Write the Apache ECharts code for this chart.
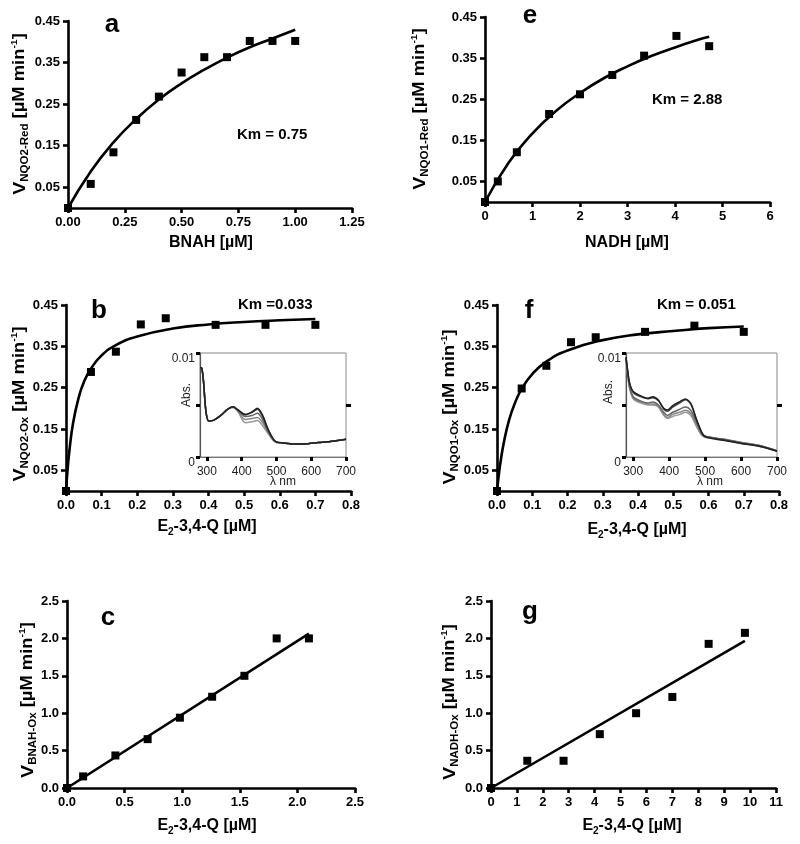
<!DOCTYPE html>
<html><head><meta charset="utf-8">
<script src="https://cdn.jsdelivr.net/npm/echarts@6/dist/echarts.min.js"></script>
<style>html,body{margin:0;padding:0;background:#fff}#c{width:800px;height:844px}</style>
</head><body><div id="c"></div>
<script>
// ---------- data ----------
// panel a : NQO2 reduction by BNAH
const aX = [0, 0.1, 0.2, 0.3, 0.4, 0.5, 0.6, 0.7, 0.8, 0.9, 1.0];
const aY = [0, 0.058, 0.134, 0.212, 0.268, 0.326, 0.363, 0.363, 0.402, 0.402, 0.402];
const aFitX = [0, 0.1, 0.2, 0.3, 0.4, 0.5, 0.6, 0.7, 0.8, 0.9, 1.0];
const aFitY = [0, 0.088, 0.158, 0.214, 0.261, 0.300, 0.333, 0.362, 0.387, 0.408, 0.429];
// panel e : NQO1 reduction by NADH
const eX = [0, 0.27, 0.67, 1.35, 2.0, 2.68, 3.35, 4.03, 4.72];
const eY = [0, 0.050, 0.121, 0.214, 0.262, 0.309, 0.356, 0.404, 0.379];
const eFitX = [0, 0.5, 1, 1.5, 2, 2.5, 3, 3.5, 4, 4.5, 4.72];
const eFitY = [0, 0.096, 0.167, 0.222, 0.265, 0.301, 0.330, 0.355, 0.376, 0.395, 0.402];
// panels b / f : oxidation by E2-3,4-Q
const qX = [0, 0.07, 0.14, 0.21, 0.28, 0.42, 0.56, 0.70];
const bY = [0, 0.288, 0.337, 0.403, 0.418, 0.402, 0.402, 0.402];
const fY = [0, 0.248, 0.303, 0.360, 0.372, 0.385, 0.400, 0.385];
const qFitX = [0, 0.005, 0.01, 0.02, 0.035, 0.05, 0.07, 0.1, 0.14, 0.2, 0.3, 0.4, 0.5, 0.6, 0.7];
const bFitY = [0, 0.057, 0.101, 0.165, 0.224, 0.263, 0.296, 0.328, 0.353, 0.374, 0.393, 0.403, 0.409, 0.413, 0.416];
const fFitY = [0, 0.038, 0.070, 0.120, 0.174, 0.211, 0.247, 0.283, 0.313, 0.340, 0.365, 0.379, 0.387, 0.394, 0.398];
// panel c : BNAH oxidation
const cX = [0, 0.14, 0.42, 0.70, 0.98, 1.26, 1.54, 1.82, 2.10];
const cY = [0, 0.155, 0.435, 0.653, 0.94, 1.22, 1.50, 2.0, 2.0];
const cFitX = [0, 2.1];
const cFitY = [0, 2.065];
// panel g : NADH oxidation
const gX = [0, 1.4, 2.8, 4.2, 5.6, 7.0, 8.4, 9.8];
const gY = [0, 0.364, 0.364, 0.72, 1.0, 1.217, 1.927, 2.074];
const gFitX = [0, 9.8];
const gFitY = [0, 1.967];
// inset spectra (panel b)
const bWl = [280, 285, 290, 297, 305, 320, 340, 360, 375, 390, 410, 430, 445, 460, 475, 490, 500, 520, 550, 580, 620, 660, 700];
const bSpec1 = [0.0086, 0.00855, 0.0073, 0.0044, 0.00345, 0.00355, 0.0040, 0.0046, 0.00484, 0.00452, 0.0041, 0.00435, 0.00468, 0.00403, 0.00274, 0.00177, 0.00145, 0.00135, 0.00126, 0.00126, 0.00139, 0.00152, 0.00171];
const bSpec2 = [0.0086, 0.00855, 0.0073, 0.0044, 0.00345, 0.00355, 0.0040, 0.0046, 0.00482, 0.00448, 0.00405, 0.0043, 0.0046, 0.0039, 0.0027, 0.00175, 0.00145, 0.00135, 0.00126, 0.00126, 0.00139, 0.00152, 0.00171];
const bSpec3 = [0.0086, 0.00855, 0.0073, 0.0044, 0.00345, 0.00355, 0.0040, 0.0046, 0.0048, 0.00445, 0.0039, 0.0040, 0.0042, 0.0036, 0.0025, 0.0017, 0.00143, 0.00134, 0.00126, 0.00126, 0.00139, 0.00152, 0.00171];
const bSpec4 = [0.0086, 0.00855, 0.0073, 0.0044, 0.00345, 0.00355, 0.0040, 0.0046, 0.00478, 0.0044, 0.0036, 0.0037, 0.0038, 0.0033, 0.0024, 0.00165, 0.0014, 0.00133, 0.00126, 0.00126, 0.00139, 0.00152, 0.00171];
const bSpec5 = [0.0086, 0.00855, 0.0073, 0.0044, 0.00345, 0.00355, 0.0040, 0.0046, 0.00475, 0.0043, 0.0033, 0.0034, 0.0035, 0.0030, 0.0023, 0.0016, 0.0014, 0.00132, 0.00126, 0.00126, 0.00139, 0.00152, 0.00171];
// inset spectra (panel f)
const fWl = [280, 285, 290, 300, 320, 340, 355, 370, 385, 395, 410, 430, 445, 460, 475, 490, 500, 550, 600, 650, 700];
const fSpec1 = [0.0096, 0.0082, 0.0071, 0.0063, 0.0059, 0.00565, 0.0058, 0.00548, 0.00468, 0.00452, 0.00494, 0.00532, 0.00558, 0.00516, 0.00371, 0.00242, 0.00194, 0.00161, 0.00129, 0.00103, 0.00055];
const fSpec2 = [0.0096, 0.0082, 0.0071, 0.0062, 0.0058, 0.0056, 0.0057, 0.0054, 0.0046, 0.0044, 0.0048, 0.0052, 0.0055, 0.0051, 0.0037, 0.0024, 0.0020, 0.00165, 0.00133, 0.00106, 0.00058];
const fSpec3 = [0.0095, 0.0080, 0.0068, 0.0058, 0.0054, 0.0052, 0.0053, 0.0050, 0.0043, 0.0040, 0.0043, 0.0046, 0.0048, 0.0045, 0.0034, 0.0023, 0.0020, 0.0017, 0.00138, 0.0011, 0.0006];
const fSpec4 = [0.0095, 0.0079, 0.0067, 0.0057, 0.0053, 0.0051, 0.0051, 0.0049, 0.0041, 0.0038, 0.0041, 0.0043, 0.0045, 0.0042, 0.0032, 0.0022, 0.0020, 0.0017, 0.0014, 0.0011, 0.0006];
const fSpec5 = [0.0095, 0.0078, 0.0066, 0.0056, 0.0052, 0.0050, 0.0050, 0.0048, 0.0040, 0.0037, 0.0039, 0.0041, 0.0043, 0.0040, 0.0030, 0.0021, 0.0019, 0.00172, 0.00142, 0.00112, 0.0006];
// tick values
const vTicks = [0.05, 0.15, 0.25, 0.35, 0.45];
const wlTicks = [300, 400, 500, 600, 700];
const absTicks = [0, 0.005, 0.01];
const absLabels = [0, 0.01];

// ---------- helpers ----------
const FONT = '"Liberation Sans", Arial, sans-serif';
const pairs = (xs, ys) => xs.map((x, i) => [x, ys[i]]);

function mainX(gi, min, max, interval, dec) {
  return {
    gridIndex: gi, type: 'value', min, max, interval,
    axisLine: { onZero: false, lineStyle: { color: '#000', width: 2.6 } },
    axisTick: { length: 5, lineStyle: { color: '#000', width: 2.6 } },
    axisLabel: { color: '#000', fontWeight: 'bold', fontSize: 13, fontFamily: FONT, margin: 8,
      formatter: v => Number(v).toFixed(dec) },
    splitLine: { show: false }
  };
}
function mainY(gi, min, max, interval, dec, custom) {
  const ax = {
    gridIndex: gi, type: 'value', min, max,
    axisLine: { show: true, onZero: false, lineStyle: { color: '#000', width: 2.6 } },
    axisTick: { show: true, length: 5, lineStyle: { color: '#000', width: 2.6 } },
    axisLabel: { color: '#000', fontWeight: 'bold', fontSize: 13, fontFamily: FONT, margin: 8,
      formatter: v => Number(v).toFixed(dec) },
    splitLine: { show: false }
  };
  if (interval) ax.interval = interval;
  if (custom) { ax.axisTick.customValues = custom; ax.axisLabel.customValues = custom; }
  return ax;
}
function insetX(gi) {
  return {
    gridIndex: gi, type: 'value', min: 280, max: 700,
    axisLine: { onZero: false, lineStyle: { color: '#777', width: 1.2 } },
    axisTick: { customValues: wlTicks, length: 4, lineStyle: { color: '#000', width: 3 } },
    axisLabel: { customValues: wlTicks, color: '#222', fontSize: 12, fontFamily: FONT, margin: 9 },
    splitLine: { show: false }
  };
}
function insetYL(gi) {
  return {
    gridIndex: gi, type: 'value', min: 0, max: 0.01,
    axisLine: { show: true, onZero: false, lineStyle: { color: '#555', width: 1.2 } },
    axisTick: { show: true, customValues: absTicks, length: 4, lineStyle: { color: '#000', width: 3 } },
    axisLabel: { customValues: absLabels, color: '#222', fontSize: 12, fontFamily: FONT, margin: 5,
      verticalAlign: 'top', formatter: v => (v === 0 ? '0' : '0.01') },
    splitLine: { show: false }
  };
}
function insetYR(gi) {
  return {
    gridIndex: gi, type: 'value', min: 0, max: 0.01, position: 'right',
    axisLine: { show: false },
    axisTick: { show: true, customValues: [0.005], length: 5, lineStyle: { color: '#000', width: 3 } },
    axisLabel: { show: false },
    splitLine: { show: false }
  };
}
function pts(xi, yi, xs, ys) {
  return { type: 'scatter', xAxisIndex: xi, yAxisIndex: yi, data: pairs(xs, ys), symbol: 'rect', symbolSize: 8,
    itemStyle: { color: '#000', opacity: 1 }, clip: false, z: 5, silent: true };
}
function fit(xi, yi, xs, ys, smooth) {
  return { type: 'line', xAxisIndex: xi, yAxisIndex: yi, data: pairs(xs, ys), showSymbol: false, symbol: 'none',
    smooth: smooth ? 0.5 : false, lineStyle: { color: '#000', width: 2.6 }, clip: false, z: 4, silent: true };
}
function spec(xi, yi, xs, ys, color) {
  return { type: 'line', xAxisIndex: xi, yAxisIndex: yi, data: pairs(xs, ys), showSymbol: false, symbol: 'none',
    smooth: 0.3, lineStyle: { color, width: 1.5 }, z: 6, silent: true };
}

const richY = {
  v: { fontSize: 17, fontWeight: 'bold', fontFamily: FONT, fill: '#000', color: '#000', lineHeight: 20 },
  s: { fontSize: 10, fontWeight: 'bold', fontFamily: FONT, fill: '#000', color: '#000', lineHeight: 11, verticalAlign: 'bottom' },
  m: { fontSize: 16, fontWeight: 'bold', fontFamily: FONT, fill: '#000', color: '#000', lineHeight: 20 },
  p: { fontSize: 9, fontWeight: 'bold', fontFamily: FONT, fill: '#000', color: '#000', lineHeight: 10, verticalAlign: 'top' }
};
function yTitle(x, y, sub) {
  return { type: 'text', x, y, rotation: Math.PI / 2, scaleX: 1.15, z: 50,
    style: { text: '{v|V}{s|' + sub + '}{m| [µM min}{p|-1}{m|]}', rich: richY,
      align: 'center', verticalAlign: 'middle', textAlign: 'center', textVerticalAlign: 'middle' } };
}
const richX = {
  m: { fontSize: 16, fontWeight: 'bold', fontFamily: FONT, fill: '#000', color: '#000', lineHeight: 20 },
  s: { fontSize: 10, fontWeight: 'bold', fontFamily: FONT, fill: '#000', color: '#000', lineHeight: 11, verticalAlign: 'bottom' }
};
function xTitleQ(x, y) {
  return { type: 'text', x, y, z: 50,
    style: { text: '{m|E}{s|2}{m|-3,4-Q [µM]}', rich: richX,
      align: 'center', verticalAlign: 'middle', textAlign: 'center', textVerticalAlign: 'middle' } };
}
function plainText(x, y, text, font, align, color) {
  return { type: 'text', x, y, z: 50,
    style: { text, font, fill: color || '#000', align: align || 'center', verticalAlign: 'middle',
      textAlign: align || 'center', textVerticalAlign: 'middle' } };
}
const LET = 'bold 26px ' + FONT;
const KM = 'bold 15px ' + FONT;
const TIT = 'bold 16px ' + FONT;
const SMALL = '12px ' + FONT;

const option = {
  animation: false,
  backgroundColor: '#fff',
  grid: [
    { left: 68, top: 21, width: 284, height: 187 },   // 0 a
    { left: 485, top: 17, width: 285, height: 185 },  // 1 e
    { left: 66, top: 305, width: 285, height: 186 },  // 2 b
    { left: 497, top: 305, width: 282, height: 186 }, // 3 f
    { left: 67, top: 601, width: 288, height: 187 },  // 4 c
    { left: 491, top: 601, width: 285, height: 187 }, // 5 g
    { left: 200, top: 353, width: 146, height: 104, show: true, borderColor: '#888', borderWidth: 1, backgroundColor: 'transparent' }, // 6 inset b
    { left: 626, top: 353, width: 151, height: 104, show: true, borderColor: '#888', borderWidth: 1, backgroundColor: 'transparent' }  // 7 inset f
  ],
  xAxis: [
    mainX(0, 0, 1.25, 0.25, 2),
    mainX(1, 0, 6, 1, 0),
    mainX(2, 0, 0.8, 0.1, 1),
    mainX(3, 0, 0.8, 0.1, 1),
    mainX(4, 0, 2.5, 0.5, 1),
    mainX(5, 0, 11, 1, 0),
    insetX(6),
    insetX(7)
  ],
  yAxis: [
    mainY(0, 0, 0.45, null, 2, vTicks),
    mainY(1, 0, 0.45, null, 2, vTicks),
    mainY(2, 0, 0.45, null, 2, vTicks),
    mainY(3, 0, 0.45, null, 2, vTicks),
    mainY(4, 0, 2.5, 0.5, 1, null),
    mainY(5, 0, 2.5, 0.5, 1, null),
    insetYL(6),
    insetYL(7),
    insetYR(6),
    insetYR(7)
  ],
  series: [
    fit(0, 0, aFitX, aFitY, true), pts(0, 0, aX, aY),
    fit(1, 1, eFitX, eFitY, true), pts(1, 1, eX, eY),
    fit(2, 2, qFitX, bFitY, true), pts(2, 2, qX, bY),
    fit(3, 3, qFitX, fFitY, true), pts(3, 3, qX, fY),
    fit(4, 4, cFitX, cFitY, false), pts(4, 4, cX, cY),
    fit(5, 5, gFitX, gFitY, false), pts(5, 5, gX, gY),
    spec(6, 6, bWl, bSpec5, '#999'), spec(6, 6, bWl, bSpec4, '#888'), spec(6, 6, bWl, bSpec3, '#666'),
    spec(6, 6, bWl, bSpec2, '#444'), spec(6, 6, bWl, bSpec1, '#222'),
    spec(7, 7, fWl, fSpec5, '#999'), spec(7, 7, fWl, fSpec4, '#888'), spec(7, 7, fWl, fSpec3, '#666'),
    spec(7, 7, fWl, fSpec2, '#444'), spec(7, 7, fWl, fSpec1, '#222')
  ],
  graphic: [
    plainText(112, 25, 'a', LET), plainText(530, 16, 'e', LET),
    plainText(99, 311, 'b', LET), plainText(529, 311, 'f', LET),
    plainText(108, 618, 'c', LET), plainText(530, 612, 'g', LET),
    plainText(237, 135, 'Km = 0.75', KM, 'left'),
    plainText(652, 100, 'Km = 2.88', KM, 'left'),
    plainText(238, 305, 'Km =0.033', KM, 'left'),
    plainText(657, 305, 'Km = 0.051', KM, 'left'),
    yTitle(20, 114, 'NQO2-Red'),
    yTitle(420, 109, 'NQO1-Red'),
    yTitle(20, 404, 'NQO2-Ox'),
    yTitle(450, 407, 'NQO1-Ox'),
    yTitle(28, 700, 'BNAH-Ox'),
    yTitle(450, 702, 'NADH-Ox'),
    plainText(211, 243, 'BNAH [µM]', TIT),
    plainText(627, 243, 'NADH [µM]', TIT),
    xTitleQ(207, 527), xTitleQ(637, 530),
    xTitleQ(207, 826), xTitleQ(632, 826),
    { type: 'text', x: 187, y: 395, rotation: Math.PI / 2, z: 50,
      style: { text: 'Abs.', font: SMALL, fill: '#222', align: 'center', verticalAlign: 'middle', textAlign: 'center', textVerticalAlign: 'middle' } },
    { type: 'text', x: 609, y: 392, rotation: Math.PI / 2, z: 50,
      style: { text: 'Abs.', font: SMALL, fill: '#222', align: 'center', verticalAlign: 'middle', textAlign: 'center', textVerticalAlign: 'middle' } },
    plainText(283, 482, 'λ nm', SMALL, 'center', '#222'),
    plainText(710, 482, 'λ nm', SMALL, 'center', '#222')
  ]
};

const chart = echarts.init(document.getElementById('c'), null, { renderer: 'canvas' });
chart.setOption(option);
</script>
</body></html>
